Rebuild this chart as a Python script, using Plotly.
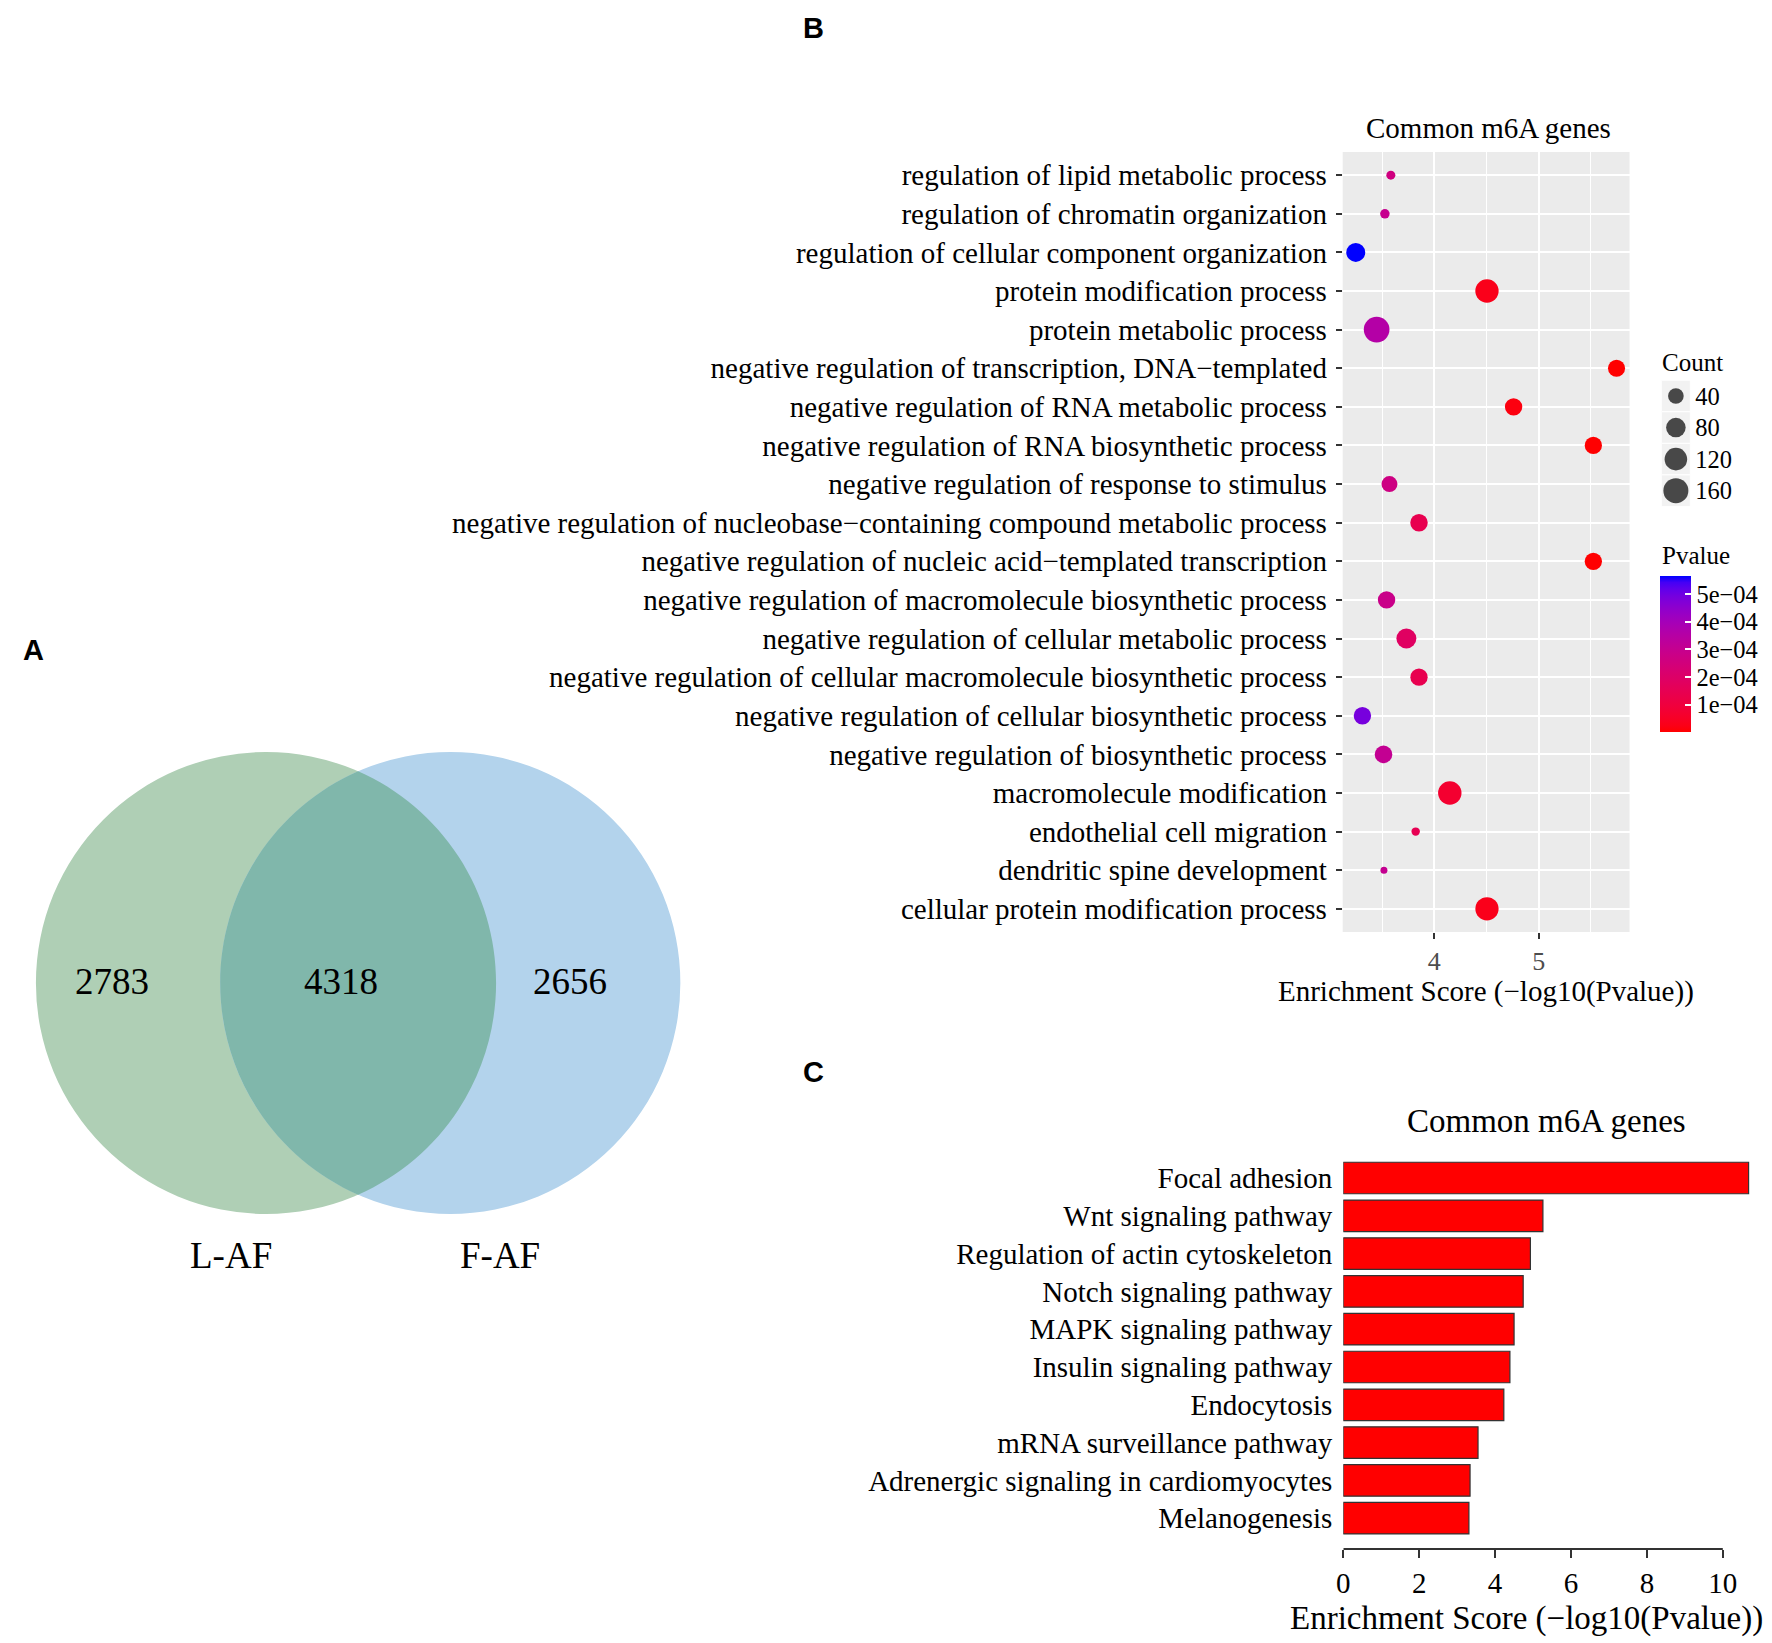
import math
import plotly.graph_objects as go

W, H = 1772, 1643
OFF = 8  # default page margin of the HTML body
FW, FH = W - OFF, H - OFF

# ---------------- DATA ----------------
# Panel A: Venn counts
venn_left_only = 2783
venn_common = 4318
venn_right_only = 2656
venn_set_names = ["L-AF", "F-AF"]

# Panel B: GO terms (top to bottom)
go_terms = [
    "regulation of lipid metabolic process",
    "regulation of chromatin organization",
    "regulation of cellular component organization",
    "protein modification process",
    "protein metabolic process",
    "negative regulation of transcription, DNA\u2212templated",
    "negative regulation of RNA metabolic process",
    "negative regulation of RNA biosynthetic process",
    "negative regulation of response to stimulus",
    "negative regulation of nucleobase\u2212containing compound metabolic process",
    "negative regulation of nucleic acid\u2212templated transcription",
    "negative regulation of macromolecule biosynthetic process",
    "negative regulation of cellular metabolic process",
    "negative regulation of cellular macromolecule biosynthetic process",
    "negative regulation of cellular biosynthetic process",
    "negative regulation of biosynthetic process",
    "macromolecule modification",
    "endothelial cell migration",
    "dendritic spine development",
    "cellular protein modification process",
]
go_score = [3.584, 3.527, 3.248, 4.505, 3.448, 5.746, 4.760, 5.524, 3.571, 3.854,
            5.524, 3.543, 3.733, 3.854, 3.312, 3.514, 4.149, 3.822, 3.518, 4.505]
go_count = [6, 7, 73, 132, 172, 53, 56, 55, 43, 57,
            55, 56, 85, 55, 56, 58, 134, 5, 4, 131]
go_pvalue = [2.6e-4, 2.97e-4, 5.65e-4, 3.1e-5, 3.56e-4, 1.8e-6, 1.74e-5, 3.0e-6, 2.69e-4, 1.4e-4,
             3.0e-6, 2.86e-4, 1.85e-4, 1.4e-4, 4.88e-4, 3.06e-4, 7.1e-5, 1.5e-4, 3.03e-4, 3.1e-5]
count_breaks = [40, 80, 120, 160]
pvalue_breaks = [1e-4, 2e-4, 3e-4, 4e-4, 5e-4]
pvalue_break_labels = ["1e\u221204", "2e\u221204", "3e\u221204", "4e\u221204", "5e\u221204"]
x_breaks_b = [4, 5]

# Panel C: KEGG pathways (top to bottom)
kegg_terms = [
    "Focal adhesion",
    "Wnt signaling pathway",
    "Regulation of actin cytoskeleton",
    "Notch signaling pathway",
    "MAPK signaling pathway",
    "Insulin signaling pathway",
    "Endocytosis",
    "mRNA surveillance pathway",
    "Adrenergic signaling in cardiomyocytes",
    "Melanogenesis",
]
kegg_score = [10.68, 5.26, 4.93, 4.74, 4.50, 4.39, 4.23, 3.55, 3.34, 3.31]
x_breaks_c = [0, 2, 4, 6, 8, 10]

# ---------------- helpers ----------------
SERIF = "Liberation Serif"
SANS = "Liberation Sans"


def px(x):
    return min(1.0, max(0.0, (x - OFF) / FW))


def py(y):
    return min(1.0, max(0.0, 1 - (y - OFF) / FH))


# size scale (ggplot-like area palette)
D_MIN, D_MAX = 7.0, 25.7
c_lo, c_hi = min(go_count), max(go_count)


def size_of(c):
    t = (c - c_lo) / (c_hi - c_lo)
    t = max(0.0, min(1.0, t))
    return D_MIN + (D_MAX - D_MIN) * math.sqrt(t)


# Lab interpolation red -> blue (like scale_colour_gradient)
def _lin(c):
    c = c / 255.0
    return c / 12.92 if c <= 0.04045 else ((c + 0.055) / 1.055) ** 2.4


def _gam(c):
    c = 12.92 * c if c <= 0.0031308 else 1.055 * max(c, 0) ** (1 / 2.4) - 0.055
    return max(0, min(255, round(c * 255)))


WX, WY, WZ = 0.95047, 1.0, 1.08883


def rgb2lab(rgb):
    r, g, b = [_lin(v) for v in rgb]
    X = (0.4124 * r + 0.3576 * g + 0.1805 * b) / WX
    Y = (0.2126 * r + 0.7152 * g + 0.0722 * b) / WY
    Z = (0.0193 * r + 0.1192 * g + 0.9505 * b) / WZ
    f = lambda t: t ** (1 / 3) if t > 0.008856 else 7.787 * t + 16 / 116
    fx, fy, fz = f(X), f(Y), f(Z)
    return (116 * fy - 16, 500 * (fx - fy), 200 * (fy - fz))


def lab2rgb(lab):
    L, a, bb = lab
    fy = (L + 16) / 116
    fx = fy + a / 500
    fz = fy - bb / 200
    finv = lambda t: t ** 3 if t ** 3 > 0.008856 else (t - 16 / 116) / 7.787
    X, Y, Z = finv(fx) * WX, finv(fy) * WY, finv(fz) * WZ
    r = 3.2406 * X - 1.5372 * Y - 0.4986 * Z
    g = -0.9689 * X + 1.8758 * Y + 0.0415 * Z
    b = 0.0557 * X - 0.2040 * Y + 1.0570 * Z
    return (_gam(r), _gam(g), _gam(b))


lab_lo, lab_hi = rgb2lab((255, 0, 0)), rgb2lab((0, 0, 255))
N = 24
colorscale = []
for i in range(N + 1):
    t = i / N
    lab = tuple(lab_lo[k] + t * (lab_hi[k] - lab_lo[k]) for k in range(3))
    r, g, b = lab2rgb(lab)
    colorscale.append([t, f"rgb({r},{g},{b})"])

fig = go.Figure()

# ---------------- Panel B: bubble chart ----------------
s_lo, s_hi = min(go_score), max(go_score)
s_pad = 0.05 * (s_hi - s_lo)
n_go = len(go_terms)

fig.add_trace(go.Scatter(
    x=go_score, y=go_terms, mode="markers", xaxis="x", yaxis="y",
    marker=dict(
        size=[size_of(c) for c in go_count], sizemode="diameter",
        color=go_pvalue, colorscale=colorscale,
        cmin=min(go_pvalue), cmax=max(go_pvalue), line=dict(width=0), opacity=1,
        colorbar=dict(
            x=px(1660), xanchor="left", xpad=0, ypad=0,
            y=py(654), yanchor="middle",
            thickness=31, len=156, lenmode="pixels",
            outlinewidth=0,
            tickvals=pvalue_breaks, ticktext=pvalue_break_labels,
            ticks="inside", ticklen=6, tickcolor="white", tickwidth=1.5,
            tickfont=dict(family=SERIF, size=24.5, color="black"),
            title=dict(text=""),
        ),
    ),
    showlegend=False, hoverinfo="skip",
))

# ---------------- Size legend ----------------
fig.add_trace(go.Scatter(
    x=[0.5] * len(count_breaks), y=list(range(len(count_breaks))),
    mode="markers", xaxis="x3", yaxis="y3",
    marker=dict(size=[size_of(c) for c in count_breaks], color="black", line=dict(width=0)),
    showlegend=False, hoverinfo="skip",
))

# ---------------- Panel C: bar chart ----------------
fig.add_trace(go.Bar(
    x=kegg_score, y=kegg_terms, orientation="h", xaxis="x2", yaxis="y2",
    marker=dict(color="#FF0000", line=dict(color="#333333", width=1.2)),
    width=0.833, showlegend=False, hoverinfo="skip",
))

# dummy trace for the Venn subplot
fig.add_trace(go.Scatter(x=[None], y=[None], xaxis="x4", yaxis="y4",
                         showlegend=False, hoverinfo="skip"))

# ---------------- Venn geometry (layout constants) ----------------
VR = 231.0
VCY = 983.0
VC1X, VC2X = 260.0, 445.0


def arc_path(cx, cy, r, a0, a1, nseg):
    da = (a1 - a0) / nseg
    k = 4.0 / 3.0 * math.tan(da / 4.0) * r
    out = ""
    for i in range(nseg):
        t0 = a0 + i * da
        t1 = t0 + da
        p0x, p0y = cx + r * math.cos(t0), cy + r * math.sin(t0)
        p3x, p3y = cx + r * math.cos(t1), cy + r * math.sin(t1)
        c1x, c1y = p0x - k * math.sin(t0), p0y + k * math.cos(t0)
        c2x, c2y = p3x + k * math.sin(t1), p3y - k * math.cos(t1)
        out += f" C {c1x:.2f},{c1y:.2f} {c2x:.2f},{c2y:.2f} {p3x:.2f},{p3y:.2f}"
    return out


half_d = (VC2X - VC1X) / 2
hh = math.sqrt(VR ** 2 - half_d ** 2)
xi = (VC1X + VC2X) / 2
ang = math.atan2(hh, half_d)
lens = f"M {xi:.2f},{VCY - hh:.2f}"
lens += arc_path(VC1X, VCY, VR, -ang, ang, 4)
lens += arc_path(VC2X, VCY, VR, math.pi - ang, math.pi + ang, 4)
lens += " Z"

shapes = [
    # bubble panel background
    dict(type="rect", xref="x domain", yref="y domain", x0=0, x1=1, y0=0, y1=1,
         fillcolor="#EBEBEB", line=dict(width=0), layer="below"),
    # bar chart axis line (0..10)
    dict(type="line", xref="x2", yref="paper", x0=x_breaks_c[0], x1=x_breaks_c[-1],
         y0=py(1549), y1=py(1549), line=dict(color="#333333", width=2)),
    # Venn
    dict(type="circle", xref="x4", yref="y4", x0=VC1X - VR, x1=VC1X + VR,
         y0=VCY - VR, y1=VCY + VR, fillcolor="#AFCFB5", line=dict(width=0), layer="below"),
    dict(type="circle", xref="x4", yref="y4", x0=VC2X - VR, x1=VC2X + VR,
         y0=VCY - VR, y1=VCY + VR, fillcolor="#B3D3EC", line=dict(width=0), layer="below"),
    dict(type="path", xref="x4", yref="y4", path=lens, fillcolor="#80B7AB",
         line=dict(width=0), layer="below"),
]
# size legend key backgrounds
for i in range(len(count_breaks)):
    shapes.append(dict(type="rect", xref="x3", yref="y3", x0=0, x1=1, y0=i - 0.5, y1=i + 0.5,
                       fillcolor="#F2F2F2", line=dict(color="white", width=1), layer="below"))

annotations = []


def ann(text, x, y, size, family=SERIF, xanchor="center", color="black", xref="paper", yref="paper"):
    annotations.append(dict(text=text, x=x, y=y, xref=xref, yref=yref, showarrow=False,
                            xanchor=xanchor, yanchor="middle",
                            font=dict(family=family, size=size, color=color)))


ann("<b>A</b>", px(27), py(650), 29, family=SANS)
ann("<b>B</b>", px(810), py(28), 29, family=SANS)
ann("<b>C</b>", px(810), py(1072), 29, family=SANS)

ann("Common m6A genes", px(1487), py(128), 29)
ann("Enrichment Score (\u2212log10(Pvalue))", px(1485), py(991), 29)
ann("Count", px(1660), py(362), 25, xanchor="left")
ann("Pvalue", px(1660), py(555), 25, xanchor="left")

ann("Common m6A genes", px(1546), py(1121), 33)
ann("Enrichment Score (\u2212log10(Pvalue))", px(1526), py(1618), 33)

# Venn texts
ann(f"{venn_left_only}", 105, 981, 37, xref="x4", yref="y4")
ann(f"{venn_common}", 335, 981, 37, xref="x4", yref="y4")
ann(f"{venn_right_only}", 565, 981, 37, xref="x4", yref="y4")
ann(venn_set_names[0], 225, 1255, 37, xref="x4", yref="y4")
ann(venn_set_names[1], 495, 1255, 37, xref="x4", yref="y4")

fig.update_layout(
    width=FW, height=FH, margin=dict(l=0, r=0, t=0, b=0),
    paper_bgcolor="white", plot_bgcolor="rgba(0,0,0,0)",
    showlegend=False,
    shapes=shapes, annotations=annotations,
    # bubble
    xaxis=dict(domain=[px(1341), px(1629)], anchor="y",
               range=[s_lo - s_pad, s_hi + s_pad],
               tickvals=x_breaks_b, ticktext=[str(v) for v in x_breaks_b],
               ticks="outside", ticklen=6, tickwidth=1.5, tickcolor="#333333",
               tickfont=dict(family=SERIF, size=26, color="#4D4D4D"),
               showgrid=True, gridcolor="white", gridwidth=2,
               minor=dict(tickvals=[3.5, 4.5, 5.5], showgrid=True, gridcolor="white",
                          gridwidth=1, ticks=""),
               zeroline=False, showline=False, ticklabelstandoff=0),
    yaxis=dict(domain=[py(932), py(152)], anchor="x", type="category",
               categoryorder="array", categoryarray=go_terms,
               range=[n_go - 1 + 0.6, -0.6],
               ticks="outside", ticklen=6, tickwidth=1.5, tickcolor="#333333",
               tickfont=dict(family=SERIF, size=29, color="black"),
               showgrid=True, gridcolor="white", gridwidth=2,
               zeroline=False, showline=False, ticklabelstandoff=3),
    # bars
    xaxis2=dict(domain=[px(1341.6), 1.0], anchor="y2",
                range=[0, (W - 1341.6) / 38.1],
                tickvals=x_breaks_c, ticktext=[str(v) for v in x_breaks_c],
                ticks="outside", ticklen=8, tickwidth=2, tickcolor="#333333",
                tickfont=dict(family=SERIF, size=29, color="black"),
                showgrid=False, zeroline=False, showline=False, ticklabelstandoff=0),
    yaxis2=dict(domain=[py(1549), py(1159.1)], anchor="x2", type="category",
                categoryorder="array", categoryarray=kegg_terms,
                range=[9.815, -0.5], ticks="",
                tickfont=dict(family=SERIF, size=29, color="black"),
                showgrid=False, zeroline=False, showline=False, ticklabelstandoff=10),
    # size legend
    xaxis3=dict(domain=[px(1661), px(1690)], anchor="y3", range=[0, 1], visible=False),
    yaxis3=dict(domain=[py(506.5), py(380.2)], anchor="x3", range=[3.5, -0.5],
                side="right", tickvals=list(range(len(count_breaks))),
                ticktext=[str(c) for c in count_breaks], ticks="",
                tickfont=dict(family=SERIF, size=24.5, color="black"),
                showgrid=False, zeroline=False, showline=False, ticklabelstandoff=4),
    # venn
    xaxis4=dict(domain=[px(OFF), px(700)], anchor="y4", range=[OFF, 700], visible=False),
    yaxis4=dict(domain=[py(1300), py(700)], anchor="x4", range=[1300, 700], visible=False),
)

fig.write_html("out.html")
